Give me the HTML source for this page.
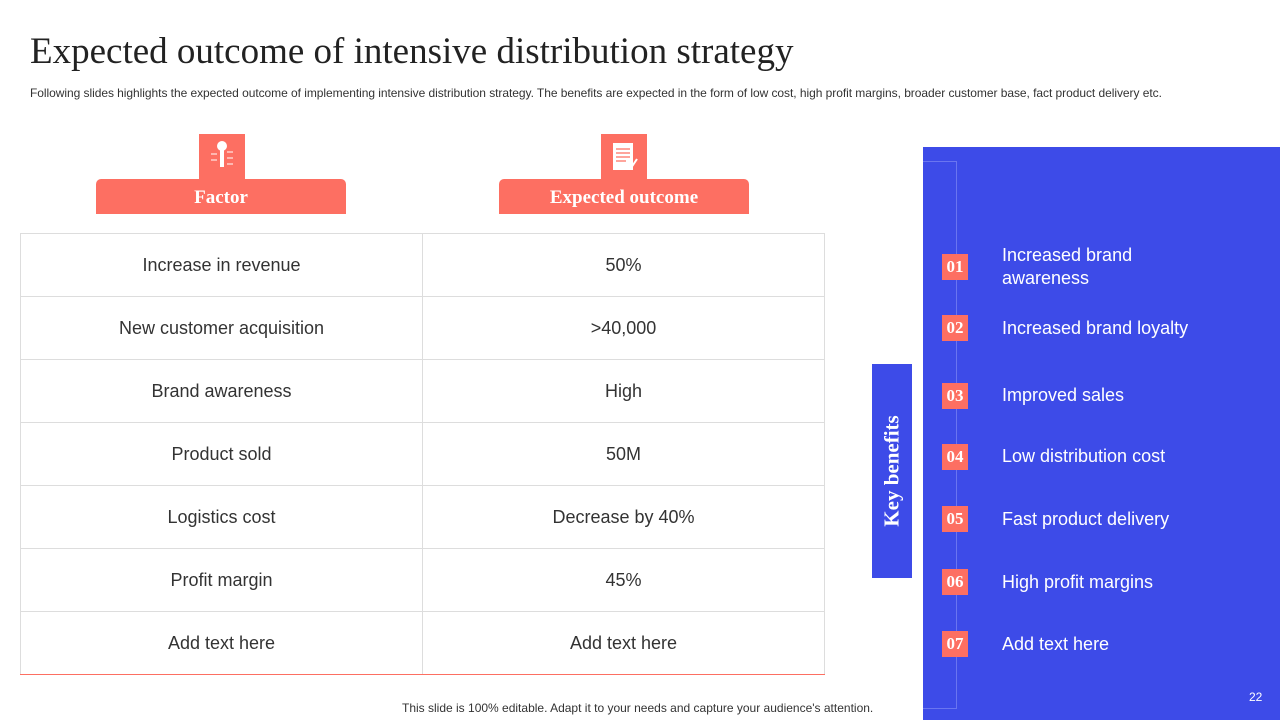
<!DOCTYPE html>
<html><head><meta charset="utf-8"><style>
*{margin:0;padding:0;box-sizing:border-box}
body{width:1280px;height:720px;position:relative;background:#fff;overflow:hidden;font-family:"Liberation Sans",Arial,sans-serif}
.a{position:absolute}
.title{left:30px;top:30px;font-family:"Liberation Serif",serif;font-size:37px;color:#222}
.sub{left:30px;top:86px;font-size:12px;color:#333;letter-spacing:-0.05px}
.hdr{background:#fd6f62;color:#fff;font-family:"Liberation Serif",serif;font-weight:bold;font-size:19px;text-align:center;line-height:38px;border-radius:5px 5px 0 0}
.icon{background:#fd6f62;width:46px;height:46px}
table{position:absolute;left:20px;top:233px;width:805px;border-collapse:collapse}
td{height:63px;border:1px solid #ddd;text-align:center;font-size:18px;color:#333;width:50%}
tr:last-child td{border-bottom:1px solid #fd6f62}
.num{left:942px;width:26px;height:26px;background:#fd6f62;color:#fff;font-family:"Liberation Serif",serif;font-weight:bold;font-size:17px;text-align:center;line-height:26px}
.ben{left:1002px;color:#fff;font-size:18px;line-height:23px}
</style></head><body>
<div class="a title">Expected outcome of intensive distribution strategy</div>
<div class="a sub">Following slides highlights the expected outcome of implementing intensive distribution strategy. The benefits are expected in the form of low cost, high profit margins, broader customer base, fact product delivery etc.</div>

<div class="a icon" style="left:199px;top:134px">
<svg width="46" height="46"><circle cx="23" cy="12" r="5" fill="#fff"/><rect x="21" y="15" width="4" height="18" fill="#fff"/><g stroke="#fff" stroke-width="1" fill="none"><path d="M12 20h6M12 26h6M28 18h6M28 24h6M28 30h6"/></g></svg></div>
<div class="a icon" style="left:601px;top:134px">
<svg width="46" height="46"><rect x="12" y="9" width="20" height="27" fill="#fff"/><g stroke="#fd6f62" stroke-width="1.2"><path d="M15 15h14M15 19h14M15 23h14M15 27h10"/></g><path d="M30 34l6-9" stroke="#fff" stroke-width="2"/></svg></div>
<div class="a hdr" style="left:96px;top:179px;width:250px;height:35px">Factor</div>
<div class="a hdr" style="left:499px;top:179px;width:250px;height:35px">Expected outcome</div>

<table>
<tr><td>Increase in revenue</td><td>50%</td></tr>
<tr><td>New customer acquisition</td><td>&gt;40,000</td></tr>
<tr><td>Brand awareness</td><td>High</td></tr>
<tr><td>Product sold</td><td>50M</td></tr>
<tr><td>Logistics cost</td><td>Decrease by 40%</td></tr>
<tr><td>Profit margin</td><td>45%</td></tr>
<tr><td>Add text here</td><td>Add text here</td></tr>
</table>

<div class="a" style="left:402px;top:701px;font-size:12px;color:#333">This slide is 100% editable. Adapt it to your needs and capture your audience's attention.</div>

<div class="a" style="left:923px;top:147px;width:357px;height:573px;background:#3d4be8"></div>
<div class="a" style="left:923px;top:161px;width:34px;height:548px;border-top:1px solid #6a75f0;border-right:1px solid #6a75f0;border-bottom:1px solid #6a75f0"></div>
<div class="a" style="left:872px;top:364px;width:40px;height:214px;background:#3d4be8">
<div style="position:absolute;left:50%;top:50%;transform:translate(-50%,-50%) rotate(-90deg);color:#fff;font-family:'Liberation Serif',serif;font-weight:bold;font-size:21px;white-space:nowrap">Key benefits</div></div>

<div class="a num" style="top:254px">01</div>
<div class="a ben" style="top:244px">Increased brand<br>awareness</div>
<div class="a num" style="top:315px">02</div>
<div class="a ben" style="top:317px">Increased brand loyalty</div>
<div class="a num" style="top:383px">03</div>
<div class="a ben" style="top:384px">Improved sales</div>
<div class="a num" style="top:444px">04</div>
<div class="a ben" style="top:445px">Low distribution cost</div>
<div class="a num" style="top:506px">05</div>
<div class="a ben" style="top:508px">Fast product delivery</div>
<div class="a num" style="top:569px">06</div>
<div class="a ben" style="top:571px">High profit margins</div>
<div class="a num" style="top:631px">07</div>
<div class="a ben" style="top:633px">Add text here</div>
<div class="a" style="left:1249px;top:690px;color:#fff;font-size:12px">22</div>
</body></html>
